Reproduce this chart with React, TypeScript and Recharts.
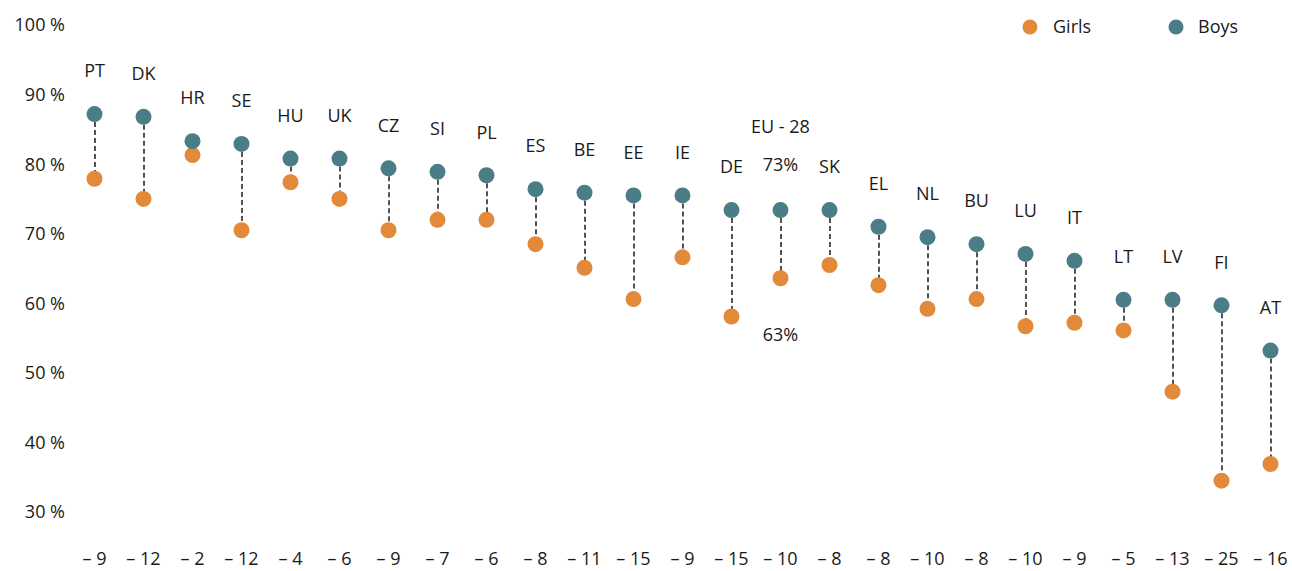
import { ComposedChart, Bar, Line, XAxis, YAxis, Legend, LabelList } from 'recharts';

const countries = ['PT', 'DK', 'HR', 'SE', 'HU', 'UK', 'CZ', 'SI', 'PL', 'ES', 'BE', 'EE', 'IE', 'DE', 'EU-28', 'SK', 'EL', 'NL', 'BU', 'LU', 'IT', 'LT', 'LV', 'FI', 'AT'];
const boys = [87.2, 86.8, 83.3, 82.9, 80.8, 80.8, 79.4, 78.9, 78.4, 76.4, 75.9, 75.5, 75.5, 73.4, 73.4, 73.4, 71.0, 69.5, 68.5, 67.1, 66.1, 60.5, 60.5, 59.7, 53.2];
const girls = [77.9, 75.0, 81.3, 70.5, 77.4, 75.0, 70.5, 72.0, 72.0, 68.5, 65.1, 60.6, 66.6, 58.1, 63.6, 65.5, 62.6, 59.2, 60.6, 56.7, 57.2, 56.1, 47.3, 34.5, 36.9];
const gaps = [-9, -12, -2, -12, -4, -6, -9, -7, -6, -8, -11, -15, -9, -15, -10, -8, -8, -10, -8, -10, -9, -5, -13, -25, -16];
const yTicks = [30, 40, 50, 60, 70, 80, 90, 100];
const euLabel = 'EU-28';
const euBoysText = '73%';
const euGirlsText = '63%';

const ORANGE = '#E3893A';
const TEAL = '#4B7D86';
const INK = '#1a1a1a';

const data = countries.map((country, i) => ({
  country,
  boys: boys[i],
  girls: girls[i],
  gap: gaps[i],
}));

// dashed connector between the two dots
const Connector = (props: any) => {
  const { x, y, width, height } = props;
  if (x == null || y == null) return null;
  const cx = x + width / 2;
  const top = Math.min(y, y + height);
  const bottom = Math.max(y, y + height);
  return <line x1={cx} x2={cx} y1={top} y2={bottom} stroke="#1a1a1a" strokeWidth={1.5} strokeDasharray="5 3" />;
};

const GapTick = (props: any) => {
  const { x, y, payload } = props;
  const g = gaps[payload.index];
  return (
    <text x={x} y={y + 47} dy="0.35em" textAnchor="middle" fill={INK} fontSize={18}>
      {`– ${Math.abs(g)}`}
    </text>
  );
};

const CountryLabel = (props: any) => {
  const { x, y, value } = props;
  if (value === euLabel) {
    return (
      <g>
        <text x={x} y={y - 83} dy="0.35em" textAnchor="middle" fill={INK} fontSize={18}>EU - 28</text>
        <text x={x} y={y - 45} dy="0.35em" textAnchor="middle" fill={INK} fontSize={18}>{euBoysText}</text>
      </g>
    );
  }
  return (
    <text x={x} y={y - 43} dy="0.35em" textAnchor="middle" fill={INK} fontSize={18}>
      {value}
    </text>
  );
};

const EuGirlsLabel = (props: any) => {
  const { x, y, value } = props;
  if (value !== euLabel) return null;
  return (
    <text x={x} y={y + 56} dy="0.35em" textAnchor="middle" fill={INK} fontSize={18}>
      {euGirlsText}
    </text>
  );
};

const LegendBox = () => (
  <svg width={280} height={30}>
    <circle cx={20} cy={15} r={7.5} fill={ORANGE} />
    <text x={43} y={15} dy="0.35em" fill={INK} fontSize={18}>Girls</text>
    <circle cx={166} cy={15} r={7.5} fill={TEAL} />
    <text x={188} y={15} dy="0.35em" fill={INK} fontSize={18}>Boys</text>
  </svg>
);

export default function App() {
  return (
    <div style={{ position: 'absolute', left: 0, top: 0, width: 1292, height: 571, overflow: 'hidden', fontFamily: '"Open Sans", sans-serif', background: '#fff' }}>
      <ComposedChart width={1295} height={571} data={data} margin={{ top: 25, right: 0, bottom: 0, left: 0 }}>
        <XAxis
          dataKey="country"
          interval={0}
          axisLine={false}
          tickLine={false}
          tickSize={0}
          tickMargin={0}
          height={59}
          tick={<GapTick />}
        />
        <YAxis
          type="number"
          domain={[30, 100]}
          ticks={yTicks}
          width={70}
          axisLine={false}
          tickLine={false}
          tickSize={0}
          tickMargin={5}
          tickFormatter={(v: number) => `${v} %`}
          tick={{ fill: INK, fontSize: 18 }}
        />
        <Legend
          layout="horizontal"
          verticalAlign="middle"
          align="center"
          wrapperStyle={{ top: 12, left: 1010, width: 280, height: 30 }}
          content={<LegendBox />}
        />
        <Bar dataKey={(d: any) => [d.girls, d.boys]} barSize={10} shape={<Connector />} isAnimationActive={false} legendType="none" />
        <Line
          dataKey="girls"
          stroke="none"
          strokeWidth={0}
          dot={{ r: 8, fill: ORANGE, stroke: 'none', strokeWidth: 0 }}
          activeDot={false}
          isAnimationActive={false}
        >
          <LabelList dataKey="country" content={<EuGirlsLabel />} />
        </Line>
        <Line
          dataKey="boys"
          stroke="none"
          strokeWidth={0}
          dot={{ r: 8, fill: TEAL, stroke: 'none', strokeWidth: 0 }}
          activeDot={false}
          isAnimationActive={false}
        >
          <LabelList dataKey="country" content={<CountryLabel />} />
        </Line>
      </ComposedChart>
    </div>
  );
}
